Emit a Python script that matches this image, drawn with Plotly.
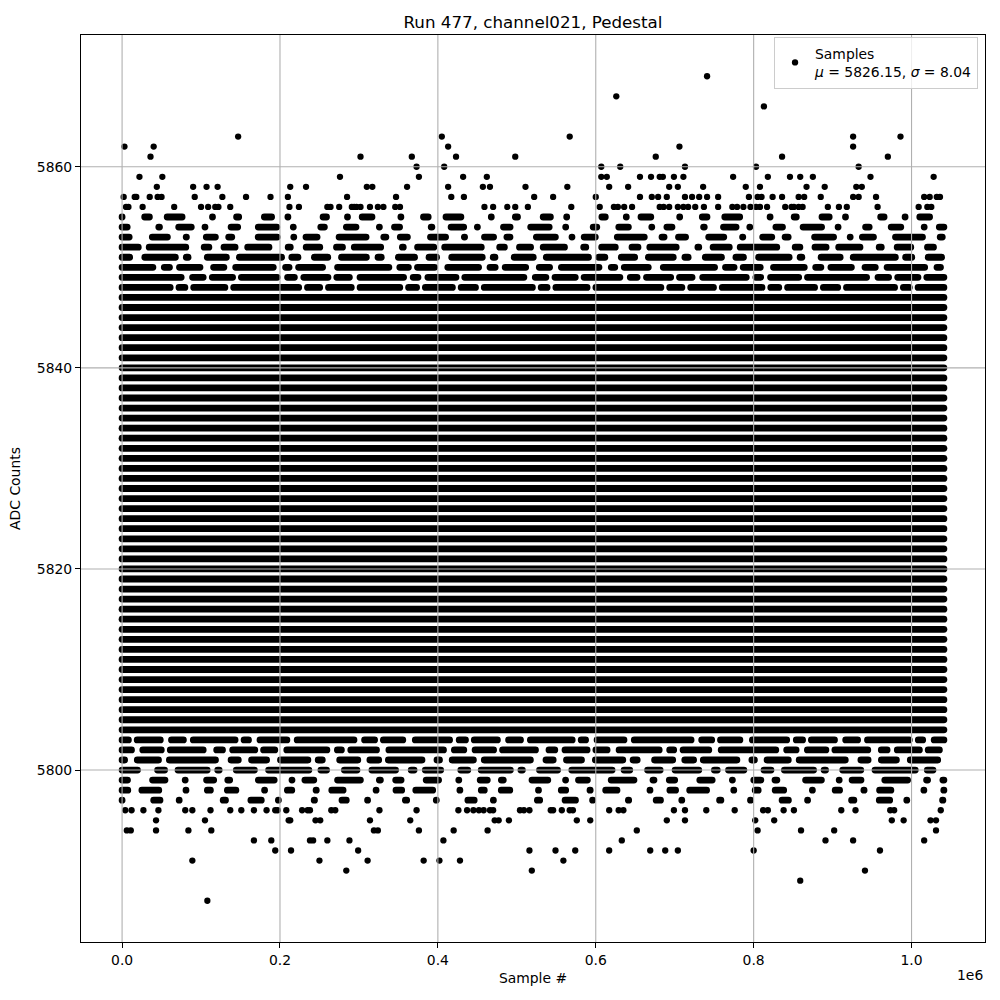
import plotly.graph_objects as go

# ---------------- text ----------------
title_text = "Run 477, channel021, Pedestal"
x_label = "Sample #"
y_label = "ADC Counts"
legend_label = "Samples<br><i>μ</i> = 5826.15, <i>σ</i> = 8.04"
x_offset_text = "1e6"

# ---------------- axes ----------------
x_tick_vals = [0, 200000, 400000, 600000, 800000, 1000000]
x_tick_text = ["0.0", "0.2", "0.4", "0.6", "0.8", "1.0"]
y_tick_vals = [5800, 5820, 5840, 5860]
y_tick_text = ["5800", "5820", "5840", "5860"]

# ---------------- data ----------------
first_sample = 0
last_sample = 1041000          # right edge of the sample run

# ADC levels hit by samples across the whole run (solid bands)
full_levels = [5804, 5805, 5806, 5807, 5808, 5809, 5810, 5811, 5812, 5813,
               5814, 5815, 5816, 5817, 5818, 5819, 5820, 5821, 5822, 5823,
               5824, 5825, 5826, 5827, 5828, 5829, 5830, 5831, 5832, 5833,
               5834, 5835, 5836, 5837, 5838, 5839, 5840, 5841, 5842, 5843,
               5844, 5845, 5846, 5847]

# ADC levels only partly filled along the run, with estimated fraction covered
partial_levels = [5797, 5798, 5799, 5800, 5801, 5802, 5803,
                  5848, 5849, 5850, 5851, 5852, 5853, 5854, 5855]
partial_coverage = [0.27, 0.42, 0.52, 0.74, 0.80, 0.88, 0.90,
                    0.97, 0.92, 0.85, 0.76, 0.70, 0.58, 0.45, 0.38]

# individual (sparse) samples per ADC level, sample index in units of 1e6
s_5869 = [0.741]
s_5867 = [0.626]
s_5866 = [0.813]
s_5863 = [0.147, 0.405, 0.567, 0.926, 0.986]
s_5862 = [0.003, 0.040, 0.413, 0.706, 0.926]
s_5861 = [0.036, 0.302, 0.367, 0.423, 0.498, 0.676, 0.836, 0.970]
s_5860 = [0.373, 0.408, 0.607, 0.631, 0.713, 0.803, 0.933]
s_5859 = [0.022, 0.051, 0.276, 0.376, 0.432, 0.462, 0.607, 0.614, 0.656, 0.670,
          0.681, 0.685, 0.699, 0.711, 0.774, 0.818, 0.846, 0.859, 0.875, 0.948, 1.028]
s_5858 = [0.044, 0.090, 0.107, 0.121, 0.213, 0.233, 0.310, 0.317, 0.361, 0.413,
          0.457, 0.466, 0.511, 0.564, 0.617, 0.641, 0.693, 0.704, 0.736, 0.790,
          0.808, 0.867, 0.890, 0.930, 0.937]
s_5857 = [0.002, 0.016, 0.018, 0.035, 0.045, 0.050, 0.092, 0.127, 0.157, 0.188,
          0.210, 0.285, 0.347, 0.417, 0.433, 0.522, 0.546, 0.600, 0.656, 0.671,
          0.679, 0.690, 0.713, 0.722, 0.731, 0.741, 0.755, 0.794, 0.805, 0.810,
          0.824, 0.836, 0.857, 0.864, 0.885, 0.926, 0.933, 0.955, 1.016, 1.023,
          1.032, 1.036]
s_5856 = [0.005, 0.008, 0.026, 0.066, 0.100, 0.109, 0.118, 0.122, 0.137, 0.212,
          0.224, 0.260, 0.264, 0.275, 0.291, 0.294, 0.297, 0.302, 0.314, 0.324,
          0.331, 0.346, 0.352, 0.459, 0.470, 0.488, 0.498, 0.514, 0.569, 0.605,
          0.623, 0.628, 0.636, 0.646, 0.681, 0.686, 0.693, 0.704, 0.711, 0.717,
          0.726, 0.737, 0.755, 0.773, 0.779, 0.787, 0.796, 0.803, 0.808, 0.817,
          0.840, 0.848, 0.851, 0.857, 0.862, 0.894, 0.908, 0.918, 0.957, 1.009,
          1.020, 1.025]
s_5796 = [0.004, 0.012, 0.027, 0.046, 0.080, 0.089, 0.112, 0.137, 0.151, 0.167,
          0.183, 0.194, 0.197, 0.208, 0.228, 0.235, 0.238, 0.265, 0.270, 0.326,
          0.373, 0.426, 0.437, 0.445, 0.452, 0.458, 0.466, 0.470, 0.504, 0.509,
          0.516, 0.543, 0.546, 0.557, 0.567, 0.571, 0.617, 0.629, 0.635, 0.699,
          0.713, 0.740, 0.776, 0.812, 0.818, 0.838, 0.851, 0.911, 0.929, 0.973,
          0.978, 1.037]
s_5795 = [0.043, 0.105, 0.211, 0.213, 0.245, 0.251, 0.314, 0.365, 0.472, 0.477,
          0.490, 0.576, 0.593, 0.690, 0.713, 0.802, 0.826, 0.975, 0.990, 1.024,
          1.031]
s_5794 = [0.006, 0.011, 0.043, 0.084, 0.113, 0.319, 0.324, 0.376, 0.420, 0.463,
          0.652, 0.805, 0.860, 0.902, 1.031]
s_5793 = [0.167, 0.189, 0.238, 0.242, 0.260, 0.288, 0.407, 0.633, 0.891, 0.926,
          1.016]
s_5792 = [0.194, 0.214, 0.299, 0.516, 0.549, 0.574, 0.617, 0.669, 0.688, 0.704,
          0.800, 0.960]
s_5791 = [0.089, 0.250, 0.311, 0.382, 0.402, 0.428, 0.559]
s_5790 = [0.284, 0.519, 0.941]
s_5789 = [0.859]
s_5787 = [0.108]

sparse_rows = [
    (5869, s_5869), (5867, s_5867), (5866, s_5866), (5863, s_5863),
    (5862, s_5862), (5861, s_5861), (5860, s_5860), (5859, s_5859),
    (5858, s_5858), (5857, s_5857), (5856, s_5856), (5796, s_5796),
    (5795, s_5795), (5794, s_5794), (5793, s_5793), (5792, s_5792),
    (5791, s_5791), (5790, s_5790), (5789, s_5789), (5787, s_5787),
]

# ---------------- style ----------------
FONT = "DejaVu Sans"
INK = "black"
GRID = "#b0b0b0"
DOT = 6.3          # marker diameter (px)
BAND = 6.8         # band thickness (px)
ON_BASE = [1.0, 2.6, 0.6, 1.8, 3.4, 0.9, 1.4, 2.2, 0.7, 1.6]
OFF_BASE = [1.2, 0.6, 1.8, 0.9, 0.5, 1.4, 1.0, 0.7, 1.5, 1.1]


def dash_pattern(cov, k):
    """Irregular dash pattern (used with round caps) so a band looks like
    runs of dots that cover roughly the given fraction of the row."""
    mon = sum(ON_BASE) / len(ON_BASE)
    moff = sum(OFF_BASE) / len(OFF_BASE)
    l_on = 6 + 30 * cov * cov          # visible run length (px)
    l_off = l_on * (1 - cov) / cov      # visible gap length (px)
    parts = []
    n = len(ON_BASE)
    for i in range(n):
        j = (i + 3 * k) % n
        on_vis = max(BAND, ON_BASE[j] / mon * l_on)
        off_vis = max(2.0, OFF_BASE[(j + k) % n] / moff * l_off)
        # round caps add half the width at each end of a dash
        parts += [f"{on_vis - BAND:.1f}px", f"{off_vis + BAND:.1f}px"]
    return ",".join(parts)


fig = go.Figure()

# solid bands
bx, by = [], []
for lv in full_levels:
    bx += [first_sample, last_sample, None]
    by += [lv, lv, None]
fig.add_trace(go.Scatter(x=bx, y=by, mode="lines",
                         line=dict(color=INK, width=BAND),
                         showlegend=False, hoverinfo="skip"))

# partially filled bands
for k, (lv, cov) in enumerate(zip(partial_levels, partial_coverage)):
    fig.add_trace(go.Scatter(x=[first_sample, last_sample], y=[lv, lv],
                             mode="lines",
                             line=dict(color=INK, width=BAND,
                                       dash=dash_pattern(cov, k)),
                             showlegend=False, hoverinfo="skip"))

# individual samples
px, py = [], []
for lv, xs in sparse_rows:
    for s in xs:
        px.append(s * 1e6)
        py.append(lv)
fig.add_trace(go.Scatter(x=px, y=py, mode="markers", name=legend_label,
                         marker=dict(color=INK, size=DOT, line=dict(width=0)),
                         showlegend=True))

span_x = last_sample - first_sample
all_y = full_levels + partial_levels + [lv for lv, _ in sparse_rows]
ymin, ymax = min(all_y), max(all_y)
span_y = ymax - ymin

# grid lines drawn above the data, as in the reference
shapes = []
for xv in x_tick_vals:
    shapes.append(dict(type="line", xref="x", yref="paper", x0=xv, x1=xv,
                       y0=0, y1=1, layer="above",
                       line=dict(color=GRID, width=1.1)))
for yv in y_tick_vals:
    shapes.append(dict(type="line", xref="paper", yref="y", x0=0, x1=1,
                       y0=yv, y1=yv, layer="above",
                       line=dict(color=GRID, width=1.1)))

axis_common = dict(showgrid=False, zeroline=False, showline=True,
                   linecolor=INK, linewidth=1.1, mirror=True,
                   ticks="outside", ticklen=5, tickwidth=1.1, tickcolor=INK,
                   tickfont=dict(family=FONT, size=13.9, color=INK),
                   layer="above traces")

fig.update_layout(
    width=1000, height=1000,
    margin=dict(l=81, r=15, t=35, b=58, pad=0),
    paper_bgcolor="white", plot_bgcolor="white",
    font=dict(family=FONT, size=13.9, color=INK),
    title=dict(text=title_text, x=0.533, xref="container", xanchor="center",
               y=0.978, yref="container", yanchor="middle",
               font=dict(family=FONT, size=16.7, color=INK)),
    xaxis=dict(range=[first_sample - 0.05 * span_x, last_sample + 0.05 * span_x],
               tickmode="array", tickvals=x_tick_vals, ticktext=x_tick_text,
               title=dict(text=x_label, standoff=6,
                          font=dict(family=FONT, size=13.9, color=INK)),
               **axis_common),
    yaxis=dict(range=[ymin - 0.05 * span_y, ymax + 0.05 * span_y],
               tickmode="array", tickvals=y_tick_vals, ticktext=y_tick_text,
               title=dict(text=y_label, standoff=12,
                          font=dict(family=FONT, size=13.9, color=INK)),
               **axis_common),
    legend=dict(x=0.9923, y=0.998, xanchor="right", yanchor="top",
                bgcolor="rgba(255,255,255,0.8)", bordercolor="#cccccc",
                borderwidth=1, font=dict(family=FONT, size=13.9, color=INK)),
    shapes=shapes,
    annotations=[dict(text=x_offset_text, xref="paper", yref="paper",
                      x=1, y=-0.0364, xanchor="right", yanchor="middle",
                      showarrow=False,
                      font=dict(family=FONT, size=13.9, color=INK))],
    showlegend=True,
)

post = (
    "document.body.style.margin='0';"
    "var st=document.createElement('style');"
    "st.textContent='.scatterlayer .js-line{stroke-linecap:round;}';"
    "document.head.appendChild(st);"
)
fig.write_html("out.html", post_script=post, config={"displayModeBar": False})
